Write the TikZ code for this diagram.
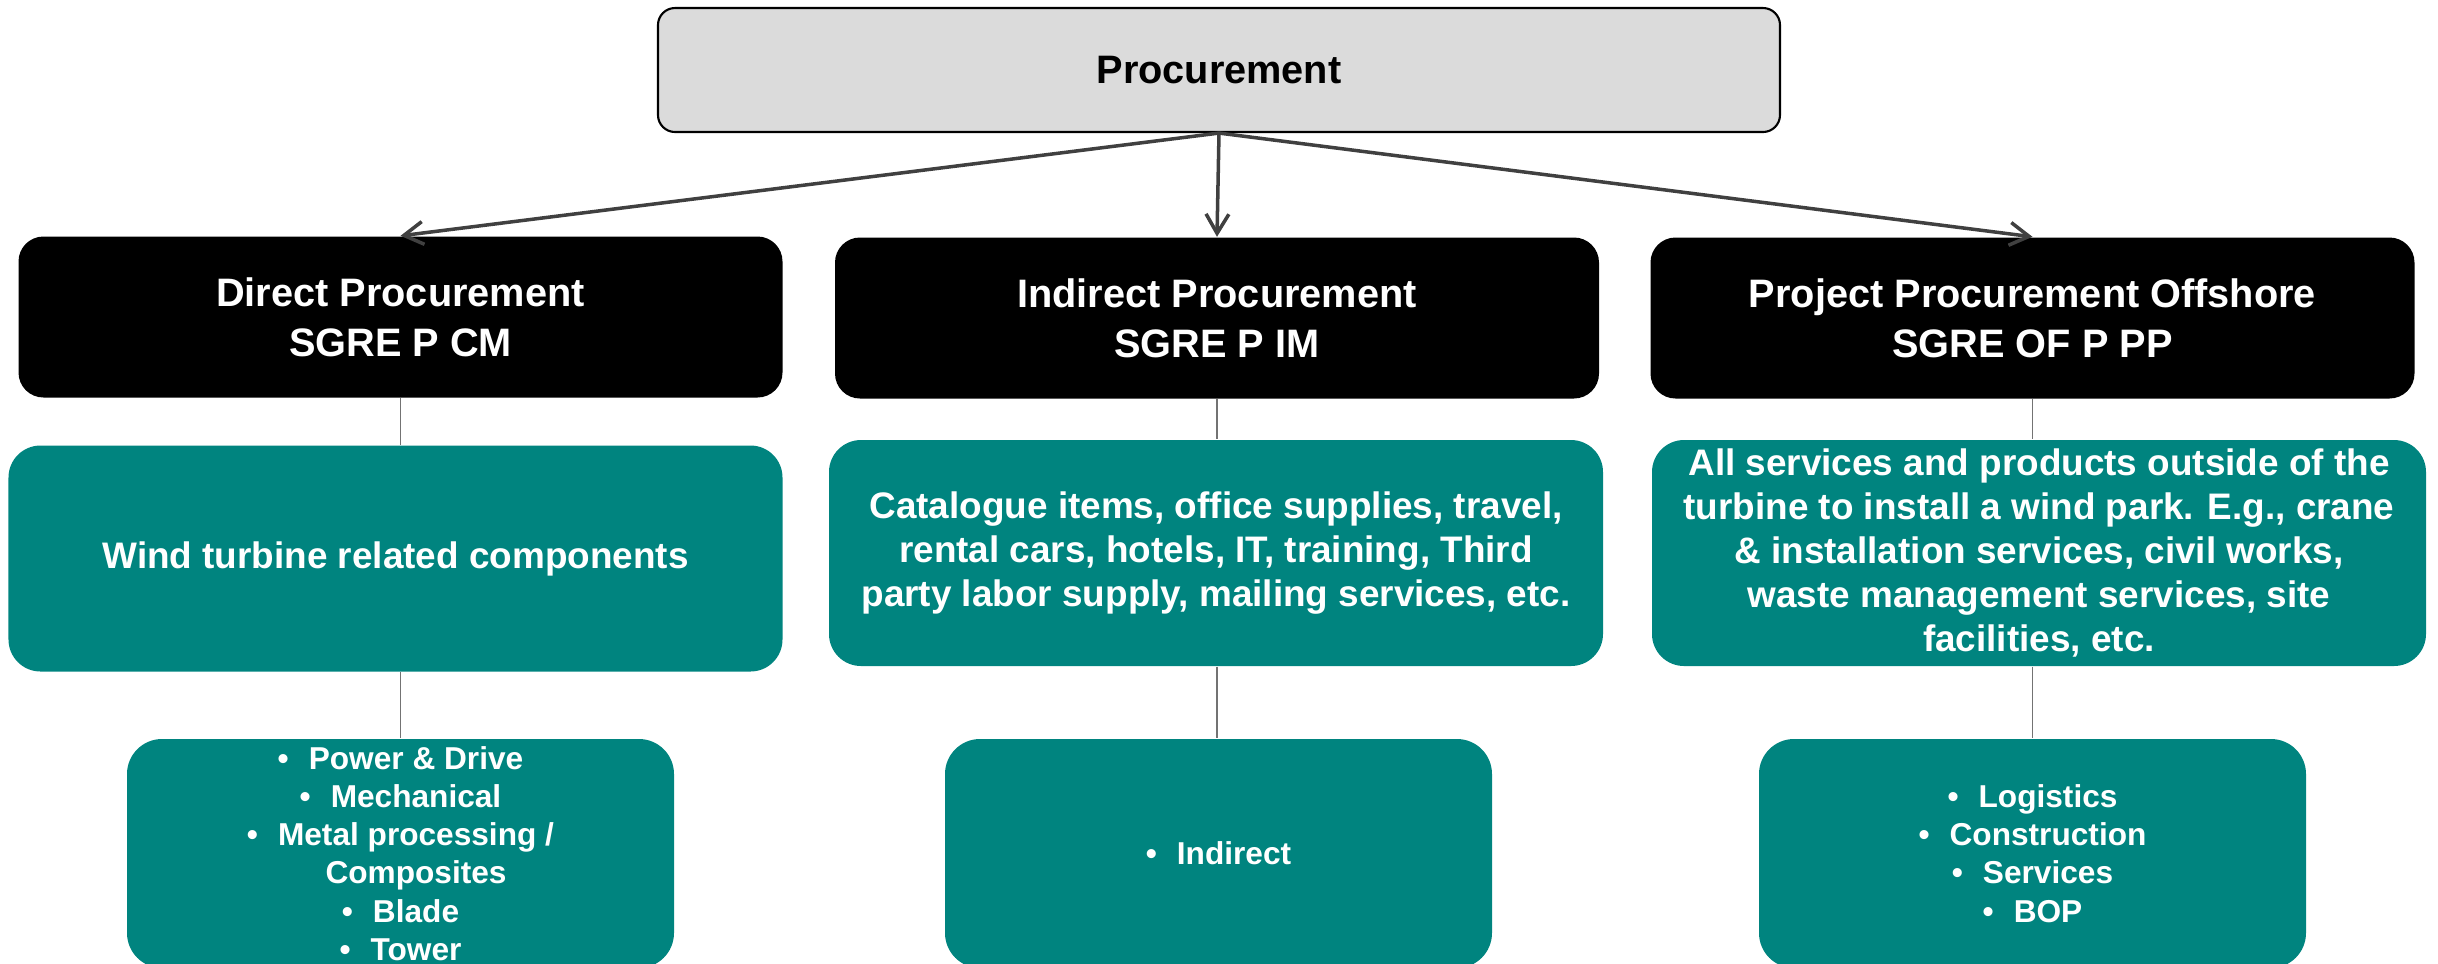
\documentclass[tikz,border=0pt]{standalone}
\usepackage{fontspec}
\setmainfont{Liberation Sans}
\usetikzlibrary{arrows.meta}
\definecolor{verde}{RGB}{0,132,127}
\definecolor{grisoscuro}{RGB}{64,64,64}
\newcommand{\punto}{\textbullet\hspace{0.2cm}}
\begin{document}
\begin{tikzpicture}[
    font=\bfseries,
    raiz/.style={draw=black,line width=0.6pt,fill=black!14,rounded corners=0.17cm,
        minimum width=11.22cm,minimum height=1.24cm,font=\fontsize{11.3}{14.2}\selectfont\bfseries},
    titulo/.style={fill=black,text=white,rounded corners=0.25cm,align=center,
        minimum width=7.64cm,minimum height=1.61cm,font=\fontsize{11.3}{14.2}\selectfont\bfseries},
    detalle/.style={fill=verde,text=white,rounded corners=0.32cm,align=center,
        minimum width=7.74cm,minimum height=2.26cm,inner sep=1pt,font=\fontsize{10.5}{12.5}\selectfont\bfseries},
    lista/.style={fill=verde,text=white,rounded corners=0.35cm,align=center,
        minimum width=5.47cm,minimum height=2.29cm,inner sep=1pt,font=\fontsize{9}{10.9}\selectfont\bfseries},
    flecha/.style={grisoscuro,line width=1pt,-{Straight Barb[length=5.5pt,width=6.5pt]}},
    enlace/.style={black!55,line width=0.5pt}
]
    \useasboundingbox (0,0) rectangle (24.38,-9.63);

    % Nivel superior
    \node[raiz] (proc) at (12.19,-0.70) {Procurement};

    % Areas de compras
    \node[titulo] (dir) at (4.005,-3.17) {Direct Procurement\\SGRE P CM};
    \node[titulo] (ind) at (12.17,-3.18) {Indirect Procurement\\SGRE P IM};
    \node[titulo] (pro) at (20.325,-3.18) {Project Procurement Offshore\\SGRE OF P PP};

    % Alcance
    \node[detalle] (dird) at (3.955,-5.585) {Wind turbine related components};
    \node[detalle] (indd) at (12.16,-5.53)
        {Catalogue items, office supplies, travel,\\rental cars, hotels, IT, training, Third\\party labor supply, mailing services, etc.};
    \node[detalle] (prod) at (20.39,-5.53)
        {All services and products outside of the\\turbine to install a wind park. E.g., crane\\\& installation services, civil works,\\waste management services, site\\facilities, etc.};

    % Categorias
    \node[lista] (dirl) at (4.005,-8.535)
        {\punto Power \& Drive\\\punto Mechanical\\\punto Metal processing /\\\phantom{\punto}Composites\\\punto Blade\\\punto Tower};
    \node[lista] (indl) at (12.185,-8.535) {\punto Indirect};
    \node[lista] (prol) at (20.325,-8.535)
        {\punto Logistics\\\punto Construction\\\punto Services\\\punto BOP};

    % Conectores
    \draw[flecha] (proc.south) -- (dir.north);
    \draw[flecha] (proc.south) -- (ind.north);
    \draw[flecha] (proc.south) -- (pro.north);
    \foreach \a/\b/\c in {dir/dird/dirl,ind/indd/indl,pro/prod/prol}{
        \draw[enlace] (\a.south) -- (\a.south |- \b.north);
        \draw[enlace] (\a.south |- \b.south) -- (\a.south |- \c.north);
    }
\end{tikzpicture}
\end{document}
